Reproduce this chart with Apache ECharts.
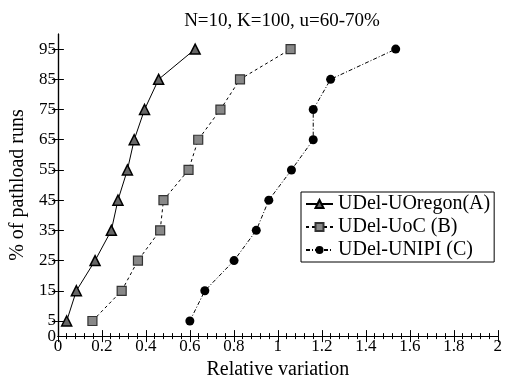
<!DOCTYPE html>
<html>
<head>
<meta charset="utf-8">
<script src="https://cdn.jsdelivr.net/npm/echarts@6/dist/echarts.min.js"></script>
<style>html,body{margin:0;padding:0;background:#fff;}#c{width:505px;height:385px;}</style>
</head>
<body>
<div id="c"></div>
<script>
var percentiles = [5, 15, 25, 35, 45, 55, 65, 75, 85, 95];
var uoregon = [0.04, 0.084, 0.169, 0.243, 0.273, 0.316, 0.347, 0.394, 0.458, 0.624];
var uoc = [0.157, 0.29, 0.364, 0.465, 0.48, 0.594, 0.638, 0.739, 0.828, 1.058];
var unipi = [0.60, 0.668, 0.801, 0.902, 0.959, 1.062, 1.161, 1.161, 1.24, 1.536];
var yLabels = [5, 15, 25, 35, 45, 55, 65, 75, 85, 95];
var yZeroLabel = [0];
var yTicks = [5, 15, 25, 35, 45, 55, 65, 75, 85, 95];
var seriesNames = ['UDel-UOregon(A)', 'UDel-UoC (B)', 'UDel-UNIPI (C)'];

var FONT = '"Liberation Serif", "Times New Roman", serif';
function pairs(xs) { return xs.map(function (x, i) { return [x, percentiles[i]]; }); }

var chart = echarts.init(document.getElementById('c'), null, {renderer: 'canvas'});
var lineAxis = {lineStyle: {color: '#000', width: 1.2}};
chart.setOption({
  animation: false,
  backgroundColor: '#fff',
  title: {
    text: 'N=10, K=100, u=60-70%',
    left: 277, top: 7, textAlign: 'center',
    textStyle: {fontFamily: FONT, fontWeight: 'normal', fontSize: 19, color: '#000'}
  },
  grid: {left: 52, right: 3, top: 34, bottom: 35, containLabel: false},
  legend: {
    orient: 'vertical', left: 301, top: 192,
    borderColor: '#000', borderWidth: 1, padding: [2, 4, 2, 4],
    itemWidth: 27, itemHeight: 10, itemGap: 3,
    textStyle: {fontFamily: FONT, fontSize: 20, color: '#000'},
    data: seriesNames
  },
  xAxis: [{
    type: 'value', min: 0, max: 2, interval: 0.2, position: 'bottom',
    name: 'Relative variation', nameLocation: 'middle', nameGap: 16,
    nameTextStyle: {fontFamily: FONT, fontSize: 20, color: '#000', verticalAlign: 'top'},
    axisLine: lineAxis,
    axisTick: {inside: true, length: 6, lineStyle: {color: '#000'}},
    minorTick: {show: true, splitNumber: 5, length: 3, lineStyle: {color: '#000'}},
    axisLabel: {fontFamily: FONT, fontSize: 17, color: '#000', margin: 2, showMinLabel: true, showMaxLabel: true},
    splitLine: {show: false}
  }, {
    type: 'value', min: 0, max: 2, interval: 0.2, position: 'top',
    axisLine: lineAxis,
    axisTick: {inside: true, length: 6, lineStyle: {color: '#000'}},
    minorTick: {show: true, splitNumber: 5, length: 3, lineStyle: {color: '#000'}},
    axisLabel: {show: false}, splitLine: {show: false}
  }],
  yAxis: [{
    type: 'value', min: 0, max: 100, interval: 5, position: 'left',
    name: '% of pathload runs', nameLocation: 'middle', nameGap: 24, nameRotate: 90,
    nameTextStyle: {fontFamily: FONT, fontSize: 20, color: '#000'},
    axisLine: lineAxis,
    axisTick: {inside: true, length: 6, customValues: yTicks, lineStyle: {color: '#000'}},
    axisLabel: {fontFamily: FONT, fontSize: 17, color: '#000', margin: 2, customValues: yLabels},
    splitLine: {show: false}
  }, {
    type: 'value', min: 0, max: 100, interval: 5, position: 'right',
    axisLine: lineAxis,
    axisTick: {inside: true, length: 6, customValues: yTicks, lineStyle: {color: '#000'}},
    axisLabel: {show: false}, splitLine: {show: false}
  }, {
    type: 'value', min: 0, max: 100, interval: 5, position: 'left', offset: 0,
    axisLine: {show: false}, axisTick: {show: false},
    axisLabel: {fontFamily: FONT, fontSize: 17, color: '#000', margin: 2, customValues: yZeroLabel, showMinLabel: true},
    splitLine: {show: false}
  }],
  series: [{
    name: seriesNames[0], type: 'line', data: pairs(uoregon),
    symbol: 'triangle', symbolSize: 10,
    lineStyle: {color: '#000', width: 1, type: 'solid'},
    itemStyle: {color: '#666', borderColor: '#000', borderWidth: 1.5}
  }, {
    name: seriesNames[1], type: 'line', data: pairs(uoc),
    symbol: 'rect', symbolSize: 9,
    lineStyle: {color: '#000', width: 1, type: [3, 3]},
    itemStyle: {color: '#888', borderColor: '#333', borderWidth: 1.2}
  }, {
    name: seriesNames[2], type: 'line', data: pairs(unipi),
    symbol: 'circle', symbolSize: 9,
    lineStyle: {color: '#000', width: 1, type: [4, 2, 1, 2]},
    itemStyle: {color: '#000', borderColor: '#000', borderWidth: 0}
  }]
});
</script>
</body>
</html>
